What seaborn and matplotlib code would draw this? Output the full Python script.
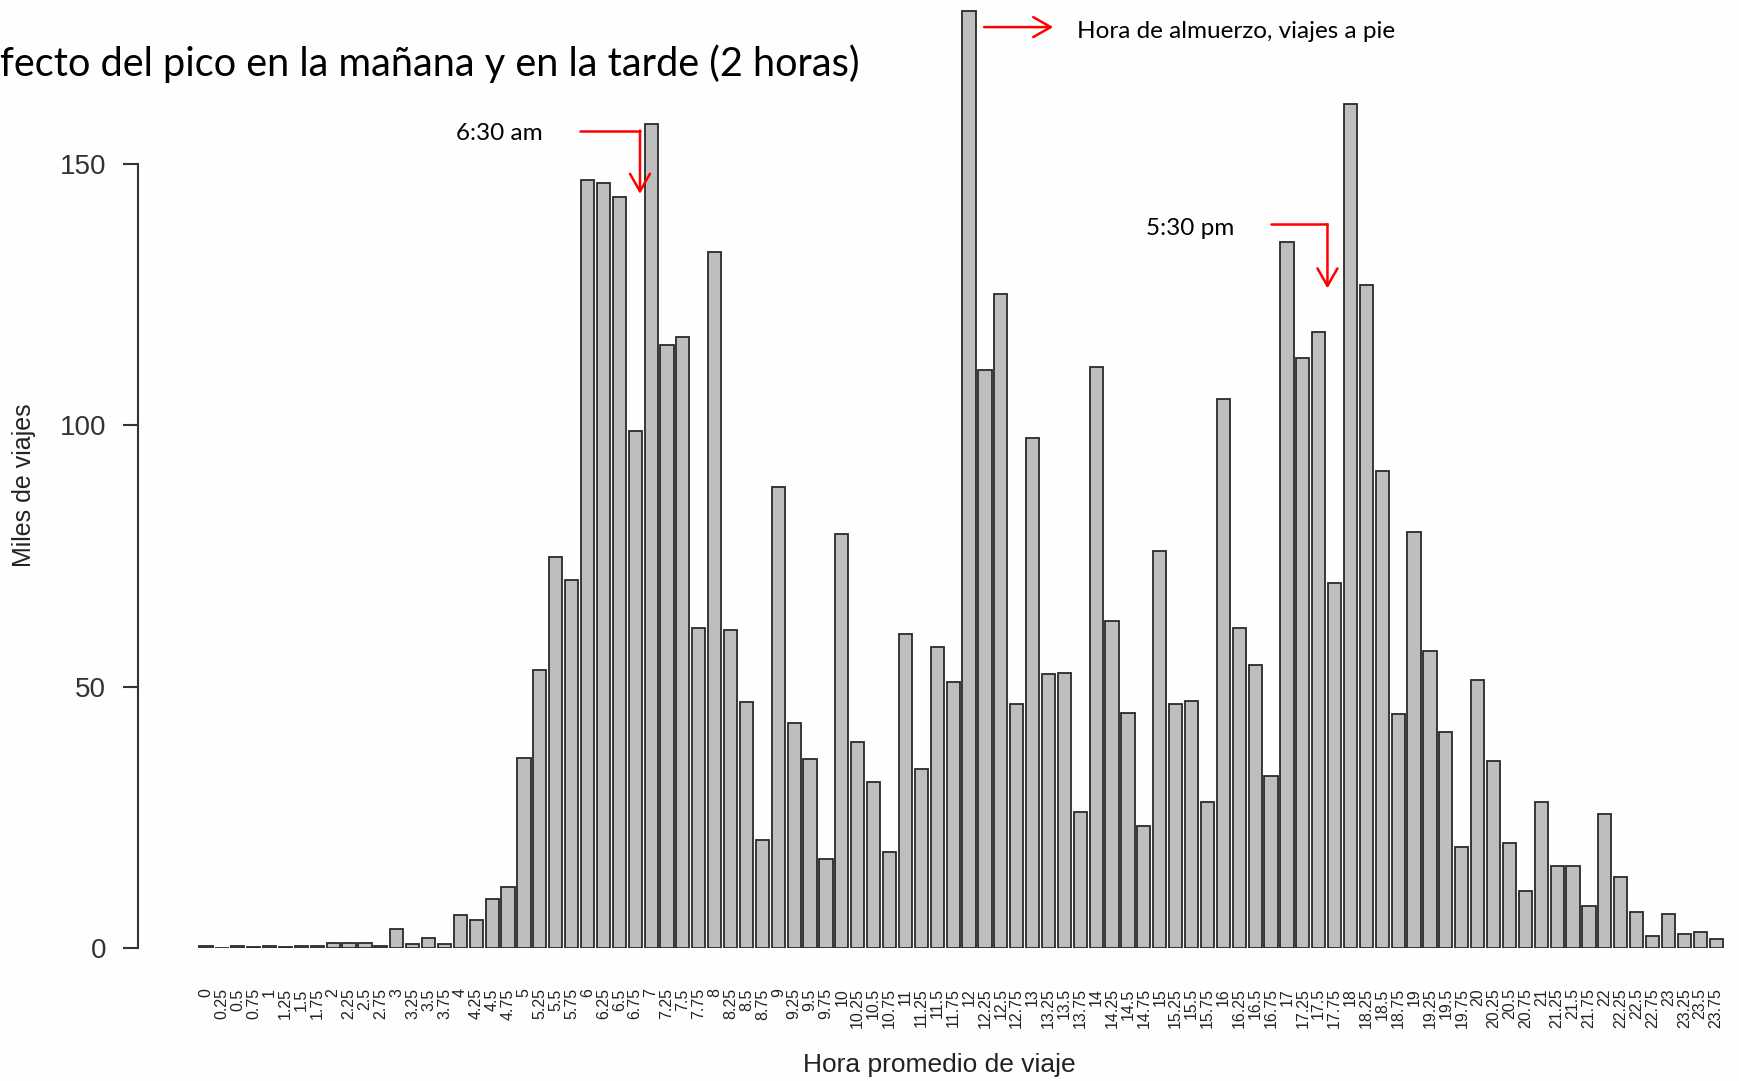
import numpy as np
import pandas as pd
import matplotlib
matplotlib.use("Agg")
import matplotlib.pyplot as plt
import seaborn as sns


# =========================
# Datos (miles de viajes por cuarto de hora)
# =========================
horas = [f"{q / 4:g}" for q in range(96)]

viajes = [
    0.4, 0.0, 0.4, 0.2, 0.4, 0.2, 0.3, 0.3,
    0.9, 0.9, 0.9, 0.4, 3.6, 0.8, 1.9, 0.8,
    6.4, 5.3, 9.3, 11.7, 36.3, 53.1, 74.8, 70.5,
    147.0, 146.4, 143.6, 99.0, 157.7, 115.4, 116.9, 61.2,
    133.2, 60.8, 47.0, 20.6, 88.2, 43.1, 36.1, 17.0,
    79.3, 39.5, 31.7, 18.3, 60.1, 34.2, 57.6, 50.8,
    179.3, 110.5, 125.2, 46.7, 97.5, 52.5, 52.7, 26.1,
    111.1, 62.5, 45.0, 23.4, 75.9, 46.7, 47.2, 28.0,
    105.0, 61.2, 54.2, 32.9, 135.1, 112.8, 117.9, 69.9,
    161.5, 126.9, 91.2, 44.8, 79.5, 56.9, 41.4, 19.3,
    51.2, 35.7, 20.0, 11.0, 28.0, 15.7, 15.7, 8.1,
    25.7, 13.6, 6.8, 2.3, 6.6, 2.6, 3.0, 1.7,
]

yticks = [0, 50, 100, 150]

ROJO = "#ff0000"


# =========================
# Grafico
# =========================
def plot_viajes():
    sns.set_style("white")
    plt.rcParams["font.family"] = ["Liberation Sans", "DejaVu Sans"]

    df = pd.DataFrame({"hora": horas, "viajes": viajes})

    fig = plt.figure(figsize=(17.4, 10.81), dpi=100)
    fig.patch.set_facecolor("#fefefe")
    ax = fig.add_axes([138 / 1740, 133 / 1081, 1594 / 1740, 946 / 1081])
    ax.set_facecolor("#fefefe")

    sns.barplot(data=df, x="hora", y="viajes", order=horas, color="#bebebe",
                saturation=1, edgecolor="#2a2a2a", linewidth=1.3, width=0.83, ax=ax)

    ax.set_xlim(-4.28, 96)
    ax.set_ylim(0, 181)

    for s in ["top", "right", "bottom"]:
        ax.spines[s].set_visible(False)
    ax.spines["left"].set_bounds(0, 150)
    ax.spines["left"].set_color("#333333")
    ax.spines["left"].set_linewidth(1.5)

    ax.set_yticks(yticks)
    ax.tick_params(axis="y", length=11, width=1.5, color="#333333", pad=12,
                   labelsize=20, labelcolor="#333333", left=True)
    ax.tick_params(axis="x", length=0, pad=29, labelsize=11.5,
                   labelcolor="#222222", rotation=90)

    ax.set_xlabel("Hora promedio de viaje", fontsize=19, color="#222222")
    ax.xaxis.set_label_coords(0.5025, -0.1237)
    ax.xaxis.label.set_va("center")
    ax.set_ylabel("Miles de viajes", fontsize=18, color="#222222")
    ax.yaxis.set_label_coords(-0.0715, 0.489)
    ax.yaxis.label.set_va("center")

    # titulo de la diapositiva (recortado en el original)
    fig.text(0.0, 1 - 57 * 1.1097 / 1081,
             "fecto del pico en la mañana y en la tarde (2 horas)",
             fontsize=28.6, family=["Lato", "DejaVu Sans"], color="black",
             ha="left", va="center")

    # anotaciones
    flecha = dict(arrowstyle="->,head_length=0.7,head_width=0.4", color=ROJO,
                  lw=1.8, mutation_scale=18, shrinkA=0, shrinkB=0)
    txt = dict(fontsize=17.5, family=["Lato", "DejaVu Sans"], color="black", va="center")

    # 6:30 am
    ax.text(21.2, 155.8, "6:30 am", ha="right", **txt)
    ax.plot([23.5, 27.3], [156.4, 156.4], color=ROJO, lw=1.8, clip_on=False)
    ax.annotate("", xy=(27.3, 144.3), xytext=(27.3, 156.4), arrowprops=flecha,
                annotation_clip=False)

    # almuerzo
    ax.annotate("", xy=(53.3, 176.2), xytext=(48.95, 176.2), arrowprops=flecha,
                annotation_clip=False)
    ax.text(54.8, 175.3, "Hora de almuerzo, viajes a pie", ha="left", **txt)

    # 5:30 pm
    ax.text(64.7, 137.7, "5:30 pm", ha="right", **txt)
    ax.plot([67.0, 70.55], [138.5, 138.5], color=ROJO, lw=1.8, clip_on=False)
    ax.annotate("", xy=(70.55, 126.2), xytext=(70.55, 138.5), arrowprops=flecha,
                annotation_clip=False)

    fig.savefig("out.png", dpi=100, facecolor=fig.get_facecolor())


if __name__ == "__main__":
    plot_viajes()
